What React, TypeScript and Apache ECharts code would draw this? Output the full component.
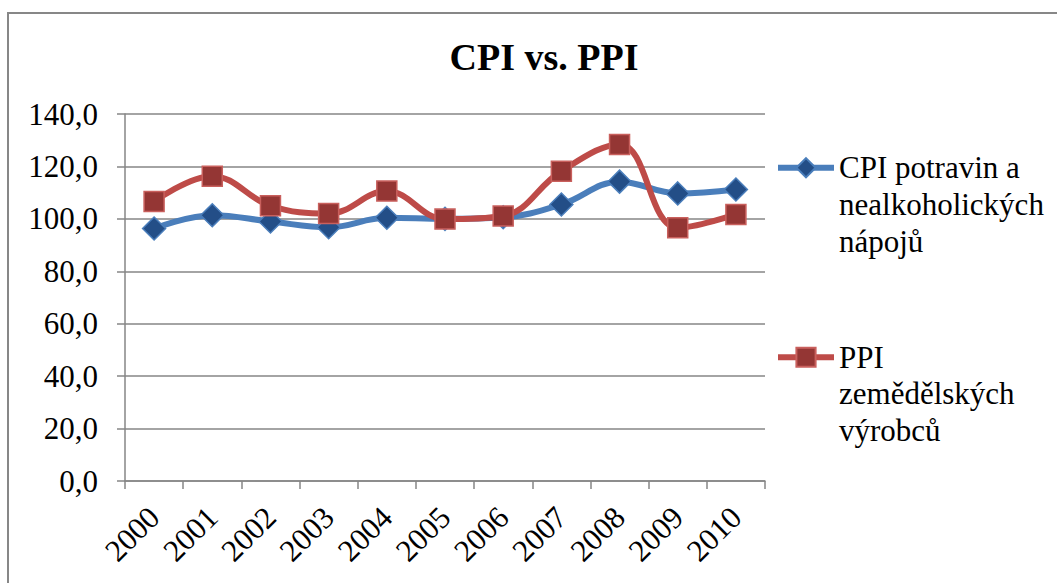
import React, { useEffect, useRef } from "react";
import * as echarts from "echarts";

const years = ["2000", "2001", "2002", "2003", "2004", "2005", "2006", "2007", "2008", "2009", "2010"];
const cpiValues = [96.3, 101.4, 99.0, 96.8, 100.4, 100.0, 100.6, 105.5, 114.2, 109.7, 111.2];
const ppiValues = [106.6, 116.3, 105.0, 102.0, 110.6, 99.9, 101.1, 118.2, 128.4, 96.6, 101.7];
const cpiName = "CPI potravin a nealkoholických nápojů";
const ppiName = "PPI zemědělských výrobců";
const cpiLegendLines = ["CPI potravin a", "nealkoholických", "nápojů"];
const ppiLegendLines = ["PPI", "zemědělských", "výrobců"];
const titleText = "CPI vs. PPI";
const yMin = 0;
const yMax = 140;
const yStep = 20;

const FONT = "Liberation Serif";
const GRID_COLOR = "#868686";

export default function App() {
  const ref = useRef<HTMLDivElement>(null);

  useEffect(() => {
    if (!ref.current) return;
    const chart = echarts.init(ref.current, undefined, { renderer: "svg" });
    const legendMap: Record<string, string[]> = {
      [cpiName]: cpiLegendLines,
      [ppiName]: ppiLegendLines,
    };
    chart.setOption({
      animation: false,
      backgroundColor: "#ffffff",
      graphic: [
        {
          type: "rect",
          shape: { x: 8, y: 13, width: 1200, height: 700 },
          style: { fill: "none", stroke: "#878787", lineWidth: 2 },
          silent: true,
          z: -10,
        },
      ],
      title: {
        text: titleText,
        left: 539,
        top: 33,
        textAlign: "center",
        textStyle: {
          fontFamily: FONT,
          fontSize: 38,
          fontWeight: "bold",
          color: "#000000",
        },
      },
      legend: {
        orient: "vertical",
        left: 775,
        top: 76,
        padding: 0,
        itemWidth: 56,
        itemHeight: 24,
        itemGap: 6,
        selectedMode: false,
        data: [cpiName, ppiName],
        lineStyle: { width: 6 },
        formatter: (name: string) => "\n\n" + (legendMap[name] || [name]).join("\n"),
        textStyle: {
          fontFamily: FONT,
          fontSize: 31,
          lineHeight: 36.7,
          color: "#000000",
        },
      },
      grid: {
        left: 125,
        right: 292,
        top: 114,
        bottom: 102,
        containLabel: false,
      },
      xAxis: {
        type: "category",
        data: years,
        boundaryGap: true,
        axisLine: { show: true, lineStyle: { color: GRID_COLOR, width: 1.5 } },
        axisTick: { show: true, interval: 0, length: 8, lineStyle: { color: GRID_COLOR, width: 1.5 } },
        axisLabel: {
          interval: 0,
          rotate: 45,
          margin: 31,
          fontFamily: FONT,
          fontSize: 31,
          color: "#000000",
        },
      },
      yAxis: {
        type: "value",
        min: yMin,
        max: yMax,
        interval: yStep,
        axisLine: { show: true, lineStyle: { color: GRID_COLOR, width: 1.5 } },
        axisTick: { show: true, length: 8, lineStyle: { color: GRID_COLOR, width: 1.5 } },
        splitLine: { show: true, lineStyle: { color: GRID_COLOR, width: 1.5 } },
        axisLabel: {
          margin: 27,
          fontFamily: FONT,
          fontSize: 31,
          color: "#000000",
          formatter: (v: number) => v.toFixed(1).replace(".", ","),
        },
      },
      series: [
        {
          name: cpiName,
          type: "line",
          data: cpiValues,
          smooth: 0.4,
          symbol: "diamond",
          symbolSize: [23, 23],
          lineStyle: { color: "#4A7EBB", width: 6 },
          itemStyle: { color: "#234E87", borderColor: "#4A7EBB", borderWidth: 1.5 },
          z: 2,
        },
        {
          name: ppiName,
          type: "line",
          data: ppiValues,
          smooth: 0.4,
          symbol: "rect",
          symbolSize: 20,
          lineStyle: { color: "#BE4B48", width: 6 },
          itemStyle: { color: "#943634", borderColor: "#C9605D", borderWidth: 1.5 },
          z: 3,
        },
      ],
    });
    return () => chart.dispose();
  }, []);

  return (
    <div
      ref={ref}
      style={{ position: "fixed", left: 0, top: 0, width: 1057, height: 583, background: "#fff" }}
    />
  );
}
